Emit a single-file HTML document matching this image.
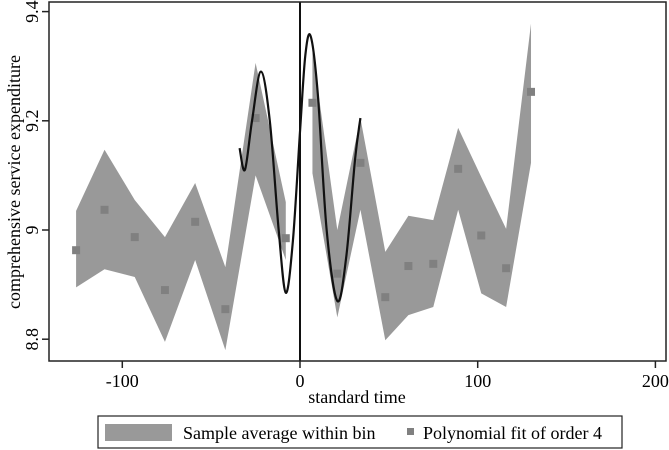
<!DOCTYPE html>
<html><head><meta charset="utf-8"><style>
body{margin:0;background:#fff;}
svg{display:block;font-family:"Liberation Serif",serif;}
</style></head><body>
<svg id="chart" width="669" height="450">
<rect x="0" y="0" width="669" height="450" fill="#fff"/>
<g id="band"></g>
<g id="marks"></g>
<line x1="300" y1="2" x2="300" y2="361" stroke="#111" stroke-width="2"/>
<path id="fit" fill="none" stroke="#111" stroke-width="2.2"/>
<rect x="49" y="2" width="617" height="359" fill="none" stroke="#222" stroke-width="1.5"/>
<g id="xt"></g>
<g id="yt"></g>
<text x="357" y="403" font-size="18" text-anchor="middle">standard time</text>
<text transform="translate(20,182) rotate(-90)" font-size="18" text-anchor="middle">comprehensive service expenditure</text>
<g>
<rect x="98" y="416" width="524" height="32" fill="#fff" stroke="#222" stroke-width="1.2"/>
<rect x="105" y="424" width="67" height="17" fill="#999"/>
<text x="183" y="439" font-size="18">Sample average within bin</text>
<rect x="407" y="428" width="7" height="7" fill="#808080"/>
<text x="423" y="439" font-size="18">Polynomial fit of order 4</text>
</g>
</svg>
<script>
const binX=[-126,-110,-93,-76,-59,-42,-25,-8,7,21,34,48,61,75,89,102,116,130];
const binMean=[8.963,9.037,8.987,8.89,9.015,8.855,9.205,8.985,9.233,8.92,9.123,8.877,8.934,8.938,9.112,8.99,8.93,9.253];
const bandUpper=[9.035,9.147,9.055,8.987,9.086,8.932,9.306,9.051,9.33,9.0,9.205,8.96,9.026,9.018,9.187,9.097,9.002,9.378];
const bandLower=[8.895,8.928,8.914,8.795,8.945,8.78,9.1,8.945,9.104,8.84,9.037,8.798,8.844,8.859,9.037,8.884,8.859,9.123];
const fitX=[-34,-31,-27,-22,-17,-12,-8,-4,0,3,6,10,15,21,26,31,34];
const fitY=[9.15,9.11,9.2,9.29,9.2,9.0,8.885,8.98,9.18,9.32,9.355,9.25,9.0,8.87,8.95,9.13,9.205];
const xTicks=[-100,0,100,200];
const yTicks=[8.8,9.0,9.2,9.4];
const yTickLabels=["8.8","9","9.2","9.4"];
const NS="http://www.w3.org/2000/svg";
const sx=v=>300+v*1.777;
const sy=v=>230-(v-9)*546;
function mk(tag,attrs,parent){const e=document.createElementNS(NS,tag);for(const k in attrs)e.setAttribute(k,attrs[k]);document.getElementById(parent).appendChild(e);return e;}
[[0,binX.findIndex(x=>x>=0)],[binX.findIndex(x=>x>=0),binX.length]].forEach(([a,b])=>{
let pts=[];for(let i=a;i<b;i++)pts.push(sx(binX[i])+','+sy(bandUpper[i]));
for(let i=b-1;i>=a;i--)pts.push(sx(binX[i])+','+sy(bandLower[i]));
const poly=mk('polygon',{points:pts.join(' '),fill:'#999'},'band');

});
binX.forEach((x,i)=>{const r=mk('rect',{x:sx(x)-4,y:sy(binMean[i])-4,width:8,height:8,fill:'#808080'},'marks');

});
const P=fitX.map((x,i)=>[sx(x),sy(fitY[i])]);
let d='M'+P[0][0]+','+P[0][1];
for(let i=0;i<P.length-1;i++){const p0=P[Math.max(i-1,0)],p1=P[i],p2=P[i+1],p3=P[Math.min(i+2,P.length-1)];
d+=' C'+(p1[0]+(p2[0]-p0[0])/6)+','+(p1[1]+(p2[1]-p0[1])/6)+' '+(p2[0]-(p3[0]-p1[0])/6)+','+(p2[1]-(p3[1]-p1[1])/6)+' '+p2[0]+','+p2[1];}
document.getElementById('fit').setAttribute('d',d);
xTicks.forEach(t=>{const l=mk('line',{x1:sx(t),x2:sx(t),y1:361,y2:368,stroke:'#222','stroke-width':1.5},'xt');


const tx=mk('text',{x:sx(t),y:387,'font-size':18,'text-anchor':'middle'},'xt');tx.textContent=t;

});
yTicks.forEach((t,i)=>{const l=mk('line',{x1:42,x2:49,y1:sy(t),y2:sy(t),stroke:'#222','stroke-width':1.5},'yt');


const tx=mk('text',{transform:'translate(38,'+sy(t)+') rotate(-90)','font-size':18,'text-anchor':'middle'},'yt');tx.textContent=yTickLabels[i];

});
</script>
</body></html>
